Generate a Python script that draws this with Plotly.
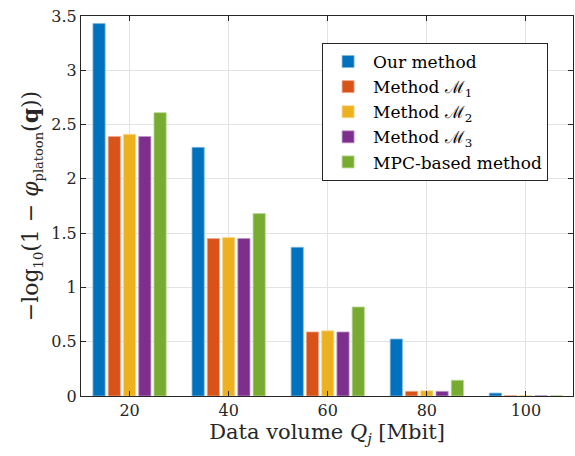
import plotly.graph_objects as go

categories = [20, 40, 60, 80, 100]
series_names = ["Our method", "Method ℳ<sub>1</sub>", "Method ℳ<sub>2</sub>",
                "Method ℳ<sub>3</sub>", "MPC-based method"]
our_method = [3.43, 2.29, 1.37, 0.525, 0.027]
method_m1 = [2.39, 1.45, 0.59, 0.043, 0.002]
method_m2 = [2.41, 1.46, 0.60, 0.048, 0.002]
method_m3 = [2.39, 1.45, 0.59, 0.043, 0.002]
mpc_method = [2.61, 1.68, 0.82, 0.145, 0.002]
colors = ["#0072BD", "#D95319", "#EDB120", "#7E2F8E", "#77AC30"]
edge_colors = ["#7FB8DE", "#ECA98C", "#F6D88F", "#BE97C6", "#BBD597"]

all_series = [our_method, method_m1, method_m2, method_m3, mpc_method]
y_ticks = [0, 0.5, 1, 1.5, 2, 2.5, 3, 3.5]
y_tick_text = ["0", "0.5", "1", "1.5", "2", "2.5", "3", "3.5"]

fig = go.Figure()
for name, vals, c, ec in zip(series_names, all_series, colors, edge_colors):
    fig.add_trace(go.Bar(x=categories, y=vals, name=name,
                         marker=dict(color=c, line=dict(color=ec, width=0.8))))

font_family = "DejaVu Serif, serif"
axis_common = dict(showline=True, linecolor="#262626", linewidth=1, mirror="ticks",
                   ticks="inside", ticklen=5, tickcolor="#262626",
                   showgrid=True, gridcolor="#E3E3E3", gridwidth=1, zeroline=False,
                   tickfont=dict(family=font_family, size=16, color="#262626"))

ylabel = ("−log<sub><span style='font-size:13px'>10</span></sub>(1 − <i>φ</i>"
          "<sub><span style='font-size:13px'>platoon</span></sub>(<b>q</b>))")

fig.update_layout(
    width=575, height=456,
    margin=dict(l=81, r=2, t=16, b=60),
    paper_bgcolor="white", plot_bgcolor="white",
    barmode="group", bargap=0.23, bargroupgap=0.2,
    font=dict(family=font_family, color="#262626"),
    xaxis=dict(range=[10.2, 109.5], tickvals=categories,
               ticktext=[str(c) for c in categories],
               title=dict(text="Data volume <i>Q<sub>j</sub></i> [Mbit]",
                          font=dict(size=21), standoff=4),
               **axis_common),
    yaxis=dict(range=[0, 3.5], tickvals=y_ticks, ticktext=y_tick_text,
               title=dict(text=ylabel, font=dict(size=22), standoff=6),
               **axis_common),
    legend=dict(x=0.49, y=0.929, xanchor="left", yanchor="top",
                bgcolor="white", bordercolor="#262626", borderwidth=1,
                font=dict(family=font_family, size=17, color="black"),
                itemwidth=40, tracegroupgap=0),
    showlegend=True,
)

fig.write_html("out.html")
